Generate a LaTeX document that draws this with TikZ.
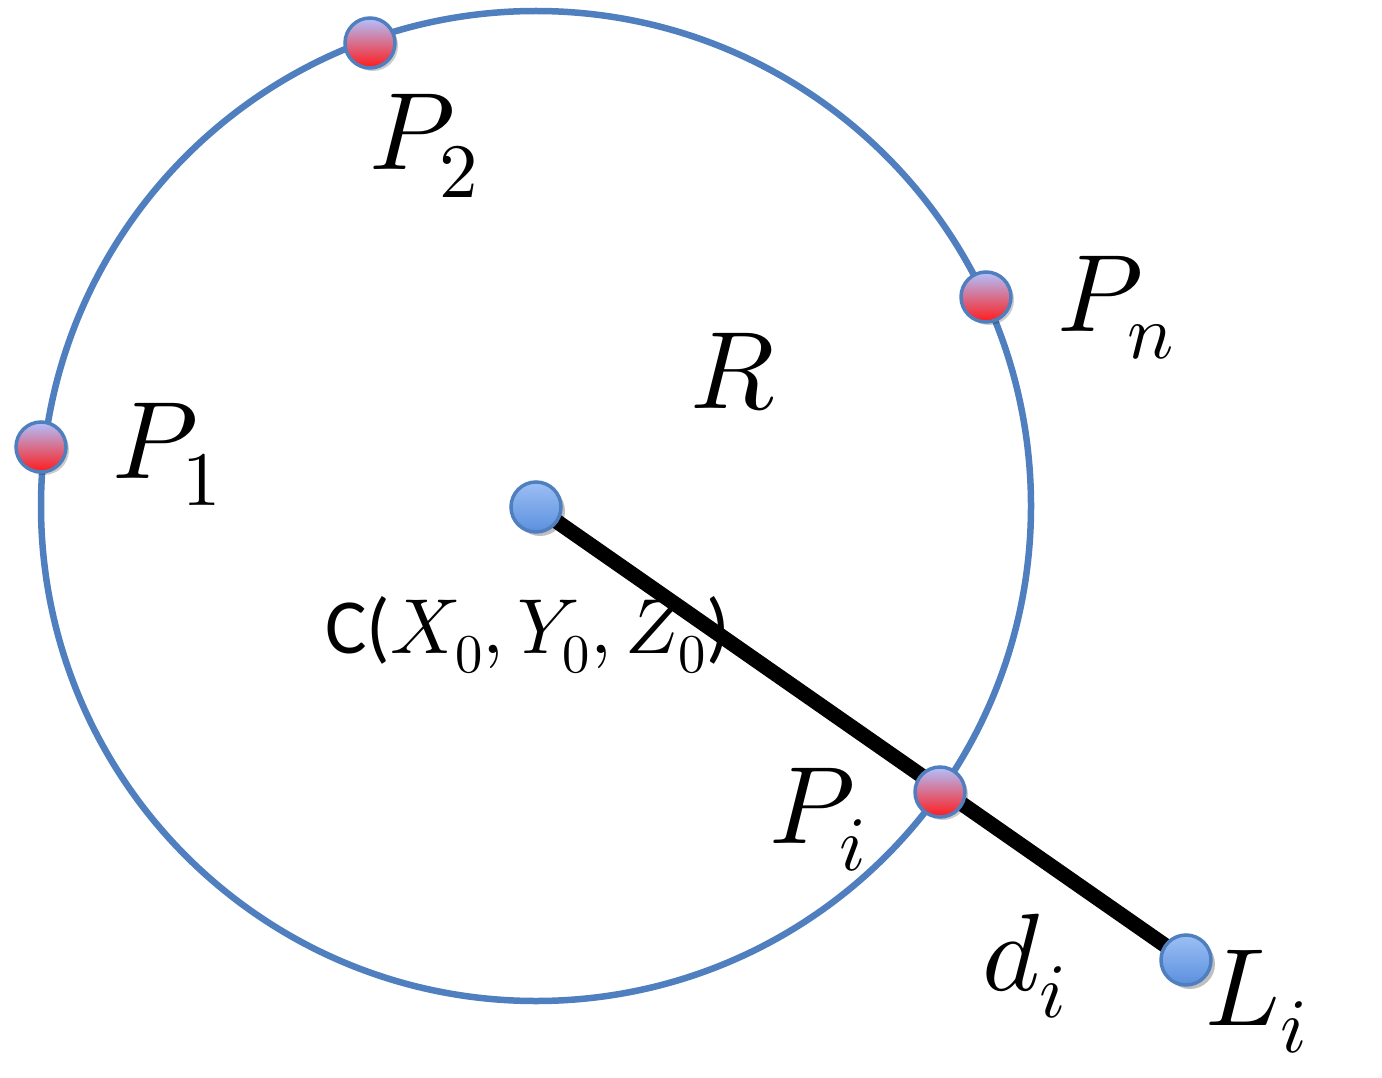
\documentclass[tikz,border=0pt]{standalone}
\usepackage{fontspec}
\usepackage{unicode-math}
\setmathfont{Latin Modern Math}
\newfontfamily\carlito{Carlito}
\usetikzlibrary{shadows}
\definecolor{ringblue}{HTML}{4F7FBF}
\definecolor{ptop}{HTML}{B0C2FF}
\definecolor{pbot}{HTML}{FF1A1A}
\definecolor{btop}{HTML}{9CC0F5}
\definecolor{bbot}{HTML}{5B8FDD}
\tikzset{
  redpt/.style={circle,minimum size=50pt,inner sep=0pt,draw=ringblue,line width=3.5pt,
    top color=ptop,bottom color=pbot,drop shadow={shadow xshift=3pt,shadow yshift=-3pt,opacity=0.2,fill=black}},
  bluept/.style={circle,minimum size=50pt,inner sep=0pt,draw=ringblue,line width=3.5pt,
    top color=btop,bottom color=bbot,drop shadow={shadow xshift=4pt,shadow yshift=-4pt,opacity=0.25,fill=black}},
  lab/.style={anchor=base west,inner sep=0pt,font=\fontsize{110}{120}\selectfont},
  clab/.style={anchor=base west,inner sep=0pt,font=\fontsize{78}{90}\selectfont},
}
\begin{document}
\begin{tikzpicture}[x=1pt,y=-1pt]
\useasboundingbox (0,0) rectangle (1382,1078);
\draw[ringblue,line width=6.5pt] (536,506) circle[radius=495];
\coordinate (cc) at (536,507);
\coordinate (lc) at (1186,960);
\draw[black,line width=15pt] (cc) -- (lc);
\node[bluept] (c) at (cc) {};
\node[bluept] (li) at (lc) {};
\node[redpt] (p2) at (370,43) {};
\node[redpt] (pn) at (986,297) {};
\node[redpt] (p1) at (41,447) {};
\node[redpt] (pi) at (940,792) {};
\node[lab] (lp1) at (112,478) {$P_1$};
\node[lab] (lp2) at (369,170) {$P_2$};
\node[lab] (lpn) at (1057,331) {$P_n$};
\node[lab] (lr) at (690,408) {$R$};
\node[lab] (lpi) at (769,843) {$P_i$};
\node[lab] (ld) at (982,990) {$d_i$};
\node[lab] (ll) at (1205,1025) {$L_i$};
\node[clab] (lc0) at (325,653) {{\carlito C(}$X_0,Y_0,Z_0${\carlito)}};
\end{tikzpicture}
\end{document}
